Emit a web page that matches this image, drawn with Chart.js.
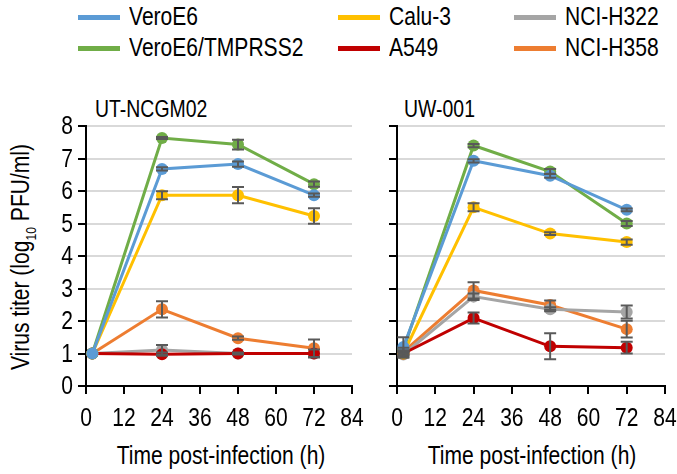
<!DOCTYPE html>
<html>
<head>
<meta charset="utf-8">
<script src="https://cdn.jsdelivr.net/npm/chart.js@4"></script>
<style>
  body { margin: 0; background: #fff; width: 677px; height: 474px; overflow: hidden; position: relative;
         font-family: 'Liberation Sans', Arial, sans-serif; }
  .panel { position: absolute; }
  #legend { position: absolute; left: 0; top: 0; width: 677px; height: 70px; }
  .item { position: absolute; font-size: 26px; color: #000; line-height: 28px; white-space: nowrap; }
  .item span.swatch { display: inline-block; width: 42px; height: 5px; vertical-align: middle; position: relative; top: -1px; }
  .narrow { display: inline-block; transform: scaleX(0.81); transform-origin: 0 50%; }
  .ptitle { position: absolute; font-size: 24px; color: #000; white-space: nowrap; transform: scaleX(0.81); transform-origin: 0 50%; }
  #ytitle { position: absolute; left: 22px; top: 257px; transform: translate(-50%, -50%) rotate(-90deg) scaleX(0.81);
            font-size: 26px; white-space: nowrap; }
  #ytitle sub { font-size: 15px; }
  .xtitle { position: absolute; top: 440px; font-size: 26px; white-space: nowrap; transform: translateX(-50%) scaleX(0.81); }
</style>
</head>
<body>
<div id="legend"></div>
<div id="ytitle">Virus titer (log<sub>10</sub> PFU/ml)</div>
<div class="ptitle" style="left:95px; top:95px;">UT-NCGM02</div>
<div class="ptitle" style="left:404px; top:95px;">UW-001</div>
<div class="xtitle" style="left:221px;">Time post-infection (h)</div>
<div class="xtitle" style="left:532px;">Time post-infection (h)</div>
<div class="panel" style="left:0; top:110px; width:372px; height:365px;"><canvas id="leftChart"></canvas></div>
<div class="panel" style="left:340px; top:110px; width:337px; height:365px;"><canvas id="rightChart"></canvas></div>
<script>
// Time points (h)
const hours = [2, 24, 48, 72];
const cellLines = ['VeroE6', 'VeroE6/TMPRSS2', 'Calu-3', 'A549', 'NCI-H322', 'NCI-H358'];
const lineColors = ['#5B9BD5', '#70AD47', '#FFC000', '#C00000', '#A5A5A5', '#ED7D31'];
const yTicks = [0, 1, 2, 3, 4, 5, 6, 7, 8];
const xTicks = [0, 12, 24, 36, 48, 60, 72, 84];

// UT-NCGM02 means and SD
const ncgmVero = [1.0, 6.68, 6.83, 5.87];
const ncgmTmprss2 = [1.0, 7.63, 7.43, 6.21];
const ncgmCalu3 = [1.0, 5.87, 5.87, 5.23];
const ncgmA549 = [1.0, 0.98, 1.0, 1.0];
const ncgmH322 = [1.0, 1.11, 1.0, 1.0];
const ncgmH358 = [1.0, 2.36, 1.47, 1.16];
const ncgmVeroSd = [0, 0.05, 0.08, 0.05];
const ncgmTmprss2Sd = [0, 0.03, 0.15, 0.08];
const ncgmCalu3Sd = [0, 0.12, 0.25, 0.24];
const ncgmA549Sd = [0, 0.05, 0, 0];
const ncgmH322Sd = [0, 0.15, 0.03, 0.12];
const ncgmH358Sd = [0, 0.25, 0.05, 0.27];

// UW-001 means and SD
const uwVero = [1.2, 6.93, 6.47, 5.42];
const uwTmprss2 = [1.13, 7.40, 6.60, 5.0];
const uwCalu3 = [1.0, 5.50, 4.69, 4.43];
const uwA549 = [1.0, 2.09, 1.22, 1.18];
const uwH322 = [0.97, 2.75, 2.36, 2.28];
const uwH358 = [1.05, 2.94, 2.49, 1.75];
const uwVeroSd = [0.3, 0.05, 0.06, 0.04];
const uwTmprss2Sd = [0.05, 0.05, 0.08, 0.08];
const uwCalu3Sd = [0.05, 0.12, 0.04, 0.08];
const uwA549Sd = [0.05, 0.17, 0.4, 0.18];
const uwH322Sd = [0.1, 0.1, 0.06, 0.2];
const uwH358Sd = [0.05, 0.25, 0.14, 0.26];

const FONT = "26px 'Liberation Sans', Arial, sans-serif";
const SQUEEZE = 0.81; // mimic the narrow face of the original

// legend in 3 columns, filled column by column
const legendPos = [[78, 2], [78, 33], [338, 2], [338, 33], [514, 2], [514, 33]];
const legendEl = document.getElementById('legend');
cellLines.forEach((name, k) => {
    const d = document.createElement('div');
    d.className = 'item';
    d.style.left = legendPos[k][0] + 'px';
    d.style.top = legendPos[k][1] + 'px';
    d.innerHTML = '<span class="swatch" style="background:' + lineColors[k] + '"></span>' +
                  '<span class="narrow" style="margin-left:9px">' + name + '</span>';
    legendEl.appendChild(d);
});

// error bars drawn with the chart's own scales
const errorBars = {
    id: 'errorBars',
    afterDatasetsDraw(chart) {
        const c = chart.ctx;
        const xs = chart.scales.x, ys = chart.scales.y;
        c.save();
        c.strokeStyle = '#595959';
        c.lineWidth = 2;
        chart.data.datasets.forEach(ds => {
            ds.data.forEach((p, i) => {
                const sd = ds.sd[i];
                if (!sd) return;
                const px = xs.getPixelForValue(p.x);
                const top = ys.getPixelForValue(p.y + sd);
                const bot = ys.getPixelForValue(p.y - sd);
                c.beginPath();
                c.moveTo(px, top); c.lineTo(px, bot);
                c.moveTo(px - 6, top); c.lineTo(px + 6, top);
                c.moveTo(px - 6, bot); c.lineTo(px + 6, bot);
                c.stroke();
            });
        });
        c.restore();
    }
};

// tick labels drawn condensed, placed with the scales' own pixel mapping
const narrowTicks = {
    id: 'narrowTicks',
    afterDraw(chart, args, opts) {
        const c = chart.ctx;
        const xs = chart.scales.x, ys = chart.scales.y;
        c.save();
        c.font = FONT;
        c.fillStyle = '#000';
        c.textBaseline = 'middle';
        c.textAlign = 'center';
        xs.ticks.forEach(t => {
            const px = xs.getPixelForValue(t.value);
            c.save();
            c.translate(px, chart.chartArea.bottom + 33);
            c.scale(SQUEEZE, 1);
            c.fillText(String(t.value), 0, 0);
            c.restore();
        });
        if (opts.yLabels) {
            c.textAlign = 'right';
            ys.ticks.forEach(t => {
                const py = ys.getPixelForValue(t.value);
                c.save();
                c.translate(chart.chartArea.left - 13, py + 1);
                c.scale(SQUEEZE, 1);
                c.fillText(String(t.value), 0, 0);
                c.restore();
            });
        }
        c.restore();
    }
};

function makeDatasets(means, sds) {
    return means.map((m, i) => ({
        label: cellLines[i],
        data: hours.map((h, j) => ({ x: h, y: m[j] })),
        sd: sds[i],
        borderColor: lineColors[i],
        backgroundColor: lineColors[i],
        borderWidth: 3,
        pointRadius: 6,
        pointBorderWidth: 0,
        tension: 0
    }));
}

function makeChart(id, means, sds, showYLabels, yWidth, padRight) {
    return new Chart(document.getElementById(id), {
        type: 'line',
        data: { datasets: makeDatasets(means, sds) },
        options: {
            responsive: true,
            maintainAspectRatio: false,
            animation: false,
            layout: { padding: { top: 16, left: 0, right: padRight, bottom: 0 } },
            plugins: {
                legend: { display: false },
                tooltip: { enabled: false },
                narrowTicks: { yLabels: showYLabels }
            },
            scales: {
                x: {
                    type: 'linear', min: 0, max: 84,
                    afterBuildTicks: s => { s.ticks = xTicks.map(v => ({ value: v })); },
                    afterFit: s => { s.height = 89; },
                    grid: { drawOnChartArea: false, tickColor: '#000', tickLength: 8, lineWidth: 2 },
                    border: { color: '#000', width: 2 },
                    ticks: { display: false }
                },
                y: {
                    min: 0, max: 8,
                    afterBuildTicks: s => { s.ticks = yTicks.map(v => ({ value: v })); },
                    afterFit: s => { s.width = yWidth; },
                    grid: { color: '#D9D9D9', lineWidth: 2, tickColor: '#000', tickLength: 8 },
                    border: { color: '#000', width: 2 },
                    ticks: { display: false }
                }
            }
        },
        plugins: [errorBars, narrowTicks]
    });
}

makeChart('leftChart',
    [ncgmVero, ncgmTmprss2, ncgmCalu3, ncgmA549, ncgmH322, ncgmH358],
    [ncgmVeroSd, ncgmTmprss2Sd, ncgmCalu3Sd, ncgmA549Sd, ncgmH322Sd, ncgmH358Sd],
    true, 86, 20);
makeChart('rightChart',
    [uwVero, uwTmprss2, uwCalu3, uwA549, uwH322, uwH358],
    [uwVeroSd, uwTmprss2Sd, uwCalu3Sd, uwA549Sd, uwH322Sd, uwH358Sd],
    false, 57, 12);
</script>
</body>
</html>
